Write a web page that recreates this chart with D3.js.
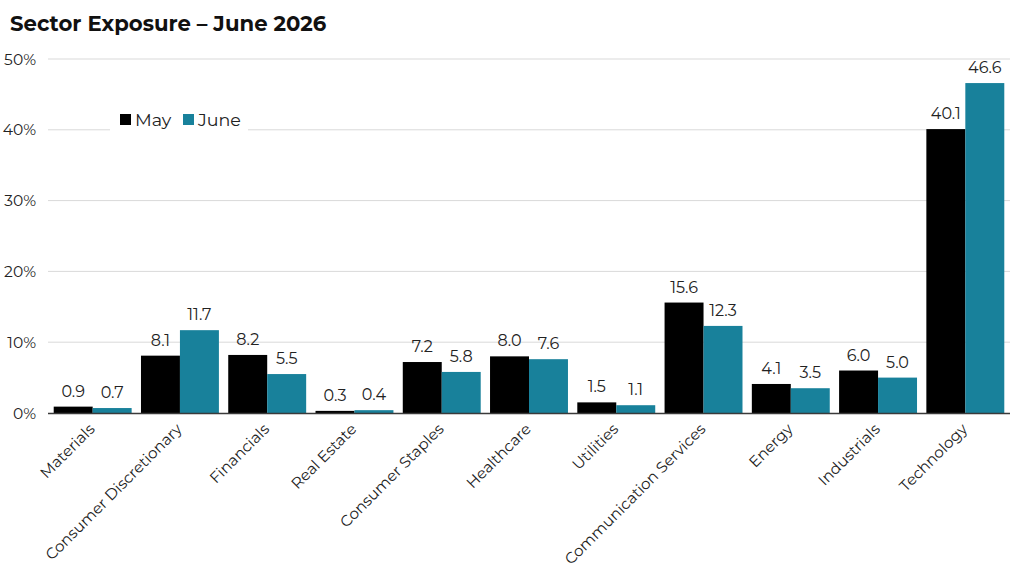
<!DOCTYPE html>
<html><head><meta charset="utf-8">
<script src="https://cdn.jsdelivr.net/npm/d3@7"></script>
<style>body{margin:0;background:#fff}svg{display:block}</style>
</head><body>
<svg id="c" width="1025" height="586"></svg>
<script>
const categories = ["Materials","Consumer Discretionary","Financials","Real Estate","Consumer Staples","Healthcare","Utilities","Communication Services","Energy","Industrials","Technology"];
const seriesNames = ["May","June"];
const mayValues = [0.9,8.1,8.2,0.3,7.2,8.0,1.5,15.6,4.1,6.0,40.1];
const juneValues = [0.7,11.7,5.5,0.4,5.8,7.6,1.1,12.3,3.5,5.0,46.6];
const yTicks = [0,10,20,30,40,50];
const colors = ["#000000","#18819b"];
const title = "Sector Exposure – June 2026";

const font = "Montserrat, Inter, 'Open Sans', sans-serif";
const svg = d3.select("#c");
const x0 = d3.scaleBand().domain(categories).range([49,1009]).paddingInner(0.107).paddingOuter(0.054);
const x1 = d3.scaleBand().domain(seriesNames).range([0,x0.bandwidth()]);
const y = d3.scaleLinear().domain([0,50]).range([413,59]);

svg.append("text").attr("x",10).attr("y",31).attr("font-family",font).attr("font-weight",700)
  .attr("font-size",21.2).attr("fill","#111").text(title);

// grid
svg.append("g").selectAll("line").data(yTicks.filter(d=>d>0)).join("line")
  .attr("x1",48).attr("x2",1010).attr("y1",d=>y(d)).attr("y2",d=>y(d))
  .attr("stroke","#d9d9d9").attr("stroke-width",1);
svg.append("g").selectAll("text").data(yTicks).join("text")
  .attr("x",36).attr("y",d=>y(d)+5.5).attr("text-anchor","end")
  .attr("font-family",font).attr("font-size",15.5).attr("fill","#222").text(d=>d+"%");

const data = categories.map((c,i)=>({c, vals:[mayValues[i],juneValues[i]]}));
const g = svg.append("g").selectAll("g").data(data).join("g").attr("transform",d=>`translate(${x0(d.c)},0)`);
g.selectAll("rect").data(d=>d.vals.map((v,j)=>({v,s:seriesNames[j],j}))).join("rect")
  .attr("x",d=>x1(d.s)).attr("width",x1.bandwidth()).attr("y",d=>y(d.v)).attr("height",d=>y(0)-y(d.v))
  .attr("fill",d=>colors[d.j]);
g.selectAll("text").data(d=>d.vals.map((v,j)=>({v,s:seriesNames[j],j}))).join("text")
  .attr("x",d=>x1(d.s)+x1.bandwidth()/2).attr("y",d=>y(d.v)-10).attr("text-anchor","middle")
  .attr("font-family",font).attr("font-size",16).attr("fill","#222").text(d=>d.v.toFixed(1));

// baseline
svg.append("line").attr("x1",48).attr("x2",1010).attr("y1",y(0)+0.5).attr("y2",y(0)+0.5).attr("stroke","#3a3a3a").attr("stroke-width",1.3);

// x labels
svg.append("g").selectAll("text").data(categories).join("text")
  .attr("text-anchor","end").attr("font-family",font).attr("font-size",15.3).attr("fill","#222")
  .attr("transform",d=>`translate(${x0(d)+x0.bandwidth()/2+3},${430}) rotate(-45)`).text(d=>d);

// legend
const lg = svg.append("g");
lg.append("rect").attr("x",110).attr("y",104).attr("width",138).attr("height",30).attr("fill","#fff");
seriesNames.forEach((s,i)=>{
  const lx = [120,183][i];
  lg.append("rect").attr("x",lx).attr("y",114).attr("width",11).attr("height",11).attr("fill",colors[i]);
  lg.append("text").attr("x",lx+15).attr("y",125.5).attr("font-family",font).attr("font-size",17.5).attr("fill","#222").text(s);
});
</script>
</body></html>
